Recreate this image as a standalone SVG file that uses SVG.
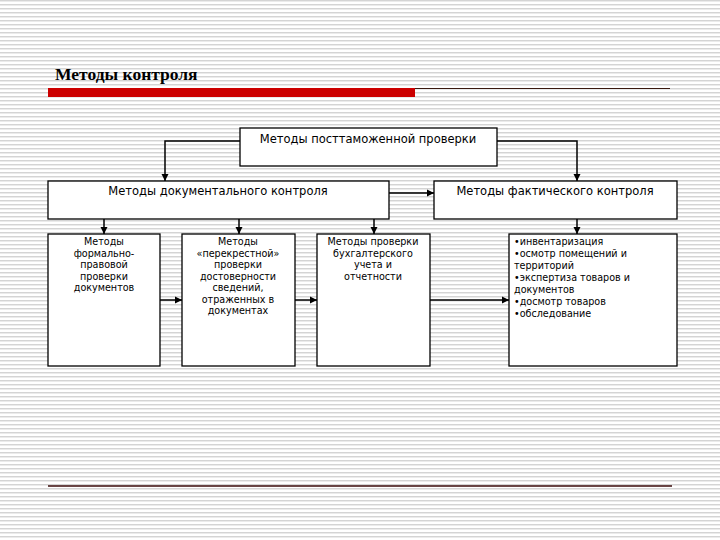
<svg xmlns="http://www.w3.org/2000/svg" width="720" height="540" viewBox="0 0 720 540">
<defs>
<pattern id="stripes" width="8" height="4" patternUnits="userSpaceOnUse">
<rect width="8" height="4" fill="#ffffff"/>
<rect y="0" width="8" height="1" fill="#d4d4d4"/>
<rect y="1" width="8" height="1" fill="#ebebeb"/>
</pattern>
<marker id="arr" markerWidth="8" markerHeight="8" refX="7" refY="4" orient="auto" markerUnits="userSpaceOnUse">
<path d="M0,0.5 L7,4 L0,7.5 Z" fill="#000"/>
</marker>
<style>
.box{fill:#fff;stroke:#000;stroke-width:1.3}
.t1{font-family:"DejaVu Sans",Verdana,sans-serif;font-size:11.5px;fill:#000}
.t2{font-family:"DejaVu Sans",Verdana,sans-serif;font-size:9.6px;fill:#000}
.c{text-anchor:middle}
.conn{fill:none;stroke:#000;stroke-width:1.5;marker-end:url(#arr)}
</style>
</defs>
<rect width="720" height="540" fill="url(#stripes)"/>
<g id="header">
<text x="55" y="80" font-family="'Liberation Serif','Times New Roman',serif" font-weight="bold" font-size="17.5px" fill="#000">Методы контроля</text>
<rect x="48" y="88" width="367" height="9" fill="#cc0000"/>
<line x1="415" y1="88.5" x2="670" y2="88.5" stroke="#3a1a10" stroke-width="1.2"/>
<line x1="48" y1="486" x2="672" y2="486" stroke="#3a0a0a" stroke-width="1.5"/>
</g>
<g id="connectors">
<path class="conn" d="M240,141 H165 V181"/>
<path class="conn" d="M497,141 H577 V181"/>
<path class="conn" d="M389,193 H434"/>
<path class="conn" d="M104,219 V234"/>
<path class="conn" d="M239,219 V234"/>
<path class="conn" d="M374,219 V234"/>
<path class="conn" d="M577,219 V234"/>
<path class="conn" d="M160,300 H182"/>
<path class="conn" d="M295,300 H317"/>
<path class="conn" d="M430,300 H509"/>
</g>
<g id="n-top">
<rect class="box" x="240" y="128" width="257" height="38"/>
<text class="t1 c" x="368" y="143">Методы посттаможенной проверки</text>
</g>
<g id="n-doc">
<rect class="box" x="48" y="181" width="341" height="38"/>
<text class="t1 c" x="218" y="195">Методы документального контроля</text>
</g>
<g id="n-fact">
<rect class="box" x="434" y="181" width="243" height="38"/>
<text class="t1 c" x="555" y="195">Методы фактического контроля</text>
</g>
<g id="n-b1">
<rect class="box" x="48" y="234" width="112" height="132"/>
<text class="t2 c" x="104" y="245"><tspan x="104">Методы</tspan><tspan x="104" dy="11.5">формально-</tspan><tspan x="104" dy="11.5">правовой</tspan><tspan x="104" dy="11.5">проверки</tspan><tspan x="104" dy="11.5">документов</tspan></text>
</g>
<g id="n-b2">
<rect class="box" x="182" y="234" width="113" height="132"/>
<text class="t2 c" x="238" y="245"><tspan x="238">Методы</tspan><tspan x="238" dy="11.5">«перекрестной»</tspan><tspan x="238" dy="11.5">проверки</tspan><tspan x="238" dy="11.5">достоверности</tspan><tspan x="238" dy="11.5">сведений,</tspan><tspan x="238" dy="11.5">отраженных в</tspan><tspan x="238" dy="11.5">документах</tspan></text>
</g>
<g id="n-b3">
<rect class="box" x="317" y="234" width="113" height="132"/>
<text class="t2 c" x="373" y="245"><tspan x="373">Методы проверки</tspan><tspan x="373" dy="11.5">бухгалтерского</tspan><tspan x="373" dy="11.5">учета и</tspan><tspan x="373" dy="11.5">отчетности</tspan></text>
</g>
<g id="n-b4">
<rect class="box" x="509" y="234" width="168" height="132"/>
<text class="t2" x="514" y="245"><tspan x="514">•инвентаризация</tspan><tspan x="514" dy="12">•осмотр помещений и</tspan><tspan x="514" dy="12">территорий</tspan><tspan x="514" dy="12">•экспертиза товаров и</tspan><tspan x="514" dy="12">документов</tspan><tspan x="514" dy="12">•досмотр товаров</tspan><tspan x="514" dy="12">•обследование</tspan></text>
</g>
</svg>
